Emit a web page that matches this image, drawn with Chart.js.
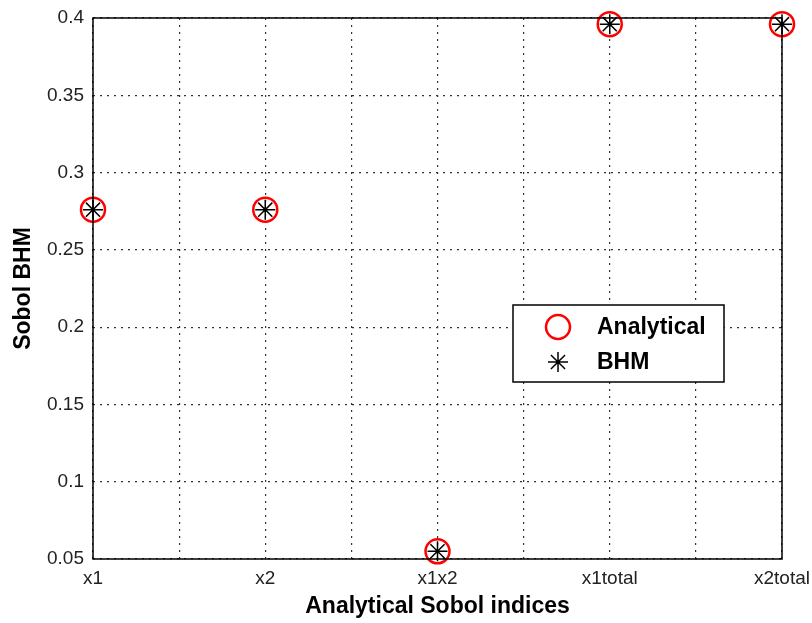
<!DOCTYPE html>
<html>
<head>
<meta charset="utf-8">
<script src="https://cdn.jsdelivr.net/npm/chart.js@4.4.1/dist/chart.umd.min.js"></script>
<style>
  html, body { margin: 0; padding: 0; background: #fff; }
  #wrap { width: 812px; height: 623px; }
</style>
</head>
<body>
<div id="wrap"><canvas id="sobolChart" width="812" height="623"></canvas></div>
<script>
const categories = ['x1', 'x2', 'x1x2', 'x1total', 'x2total'];
const analyticalValues = [0.276, 0.276, 0.055, 0.396, 0.396];
const bhmValues = [0.276, 0.276, 0.055, 0.396, 0.396];
const yTicks = [0.05, 0.1, 0.15, 0.2, 0.25, 0.3, 0.35, 0.4];

const fontFamily = '"Liberation Sans", Arial, Helvetica, sans-serif';

function toPoints(values) {
  return values.map(function (v, i) { return { x: i + 1, y: v }; });
}

// full black frame around the plot area, like matlab's box on
const boxPlugin = {
  id: 'boxFrame',
  afterDraw: function (chart) {
    const a = chart.chartArea;
    const ctx = chart.ctx;
    ctx.save();
    ctx.strokeStyle = '#000';
    ctx.lineWidth = 1.5;
    ctx.strokeRect(a.left, a.top, a.right - a.left, a.bottom - a.top);
    ctx.restore();
  }
};

// legend drawn inside the axes
const insideLegend = {
  id: 'insideLegend',
  afterDraw: function (chart) {
    const ctx = chart.ctx;
    const x = 513, y = 305, w = 211, h = 77;
    ctx.save();
    ctx.fillStyle = '#fff';
    ctx.fillRect(x, y, w, h);
    ctx.strokeStyle = '#000';
    ctx.lineWidth = 1.5;
    ctx.strokeRect(x, y, w, h);
    ctx.font = 'bold 23px ' + fontFamily;
    ctx.textBaseline = 'middle';
    chart.data.datasets.forEach(function (ds, i) {
      const cy = y + 22 + i * 35;
      ctx.strokeStyle = ds.borderColor;
      ctx.fillStyle = ds.backgroundColor;
      ctx.lineWidth = ds.borderWidth;
      Chart.helpers.drawPoint(ctx, {
        pointStyle: ds.pointStyle,
        radius: ds.pointRadius,
        borderWidth: ds.borderWidth,
        rotation: 0
      }, 558, cy);
      ctx.fillStyle = '#000';
      ctx.fillText(ds.label, 597, cy + 1);
    });
    ctx.restore();
  }
};

const ctx = document.getElementById('sobolChart').getContext('2d');

const data = {
  datasets: [{
    label: 'Analytical',
    data: toPoints(analyticalValues),
    pointStyle: 'circle',
    pointRadius: 12,
    pointHoverRadius: 12,
    borderColor: 'rgb(255, 0, 0)',
    backgroundColor: 'rgba(0, 0, 0, 0)',
    borderWidth: 2.5,
    showLine: false,
    clip: false,
    order: 2
  }, {
    label: 'BHM',
    data: toPoints(bhmValues),
    pointStyle: 'star',
    pointRadius: 10,
    pointHoverRadius: 10,
    borderColor: '#000',
    backgroundColor: '#000',
    borderWidth: 1.5,
    showLine: false,
    clip: false,
    order: 1
  }]
};

const config = {
  type: 'scatter',
  data: data,
  options: {
    responsive: false,
    animation: false,
    layout: {
      padding: { left: 0, right: 30, top: 18, bottom: 0 }
    },
    plugins: {
      legend: { display: false },
      tooltip: { enabled: false }
    },
    scales: {
      x: {
        type: 'linear',
        min: 1,
        max: 5,
        afterBuildTicks: function (scale) {
          const t = [];
          for (let v = 1; v <= 5; v += 0.5) t.push({ value: v });
          scale.ticks = t;
        },
        afterFit: function (scale) {
          scale.height = 64;
          scale.paddingLeft = 0;
          scale.paddingRight = 0;
        },
        border: { display: false, dash: [2, 5] },
        grid: {
          color: '#333',
          lineWidth: 1.2,
          drawTicks: false
        },
        ticks: {
          autoSkip: false,
          maxRotation: 0,
          padding: 8,
          color: '#222',
          font: { family: fontFamily, size: 19 },
          callback: function (value) {
            return Number.isInteger(value) ? categories[value - 1] : '';
          }
        },
        title: {
          display: true,
          text: 'Analytical Sobol indices',
          color: '#000',
          font: { family: fontFamily, size: 23, weight: 'bold' },
          padding: { top: 0, bottom: 3 }
        }
      },
      y: {
        min: 0.05,
        max: 0.4,
        afterBuildTicks: function (scale) {
          scale.ticks = yTicks.map(function (v) { return { value: v }; });
        },
        afterFit: function (scale) {
          scale.width = 93;
          scale.paddingTop = 0;
          scale.paddingBottom = 0;
        },
        border: { display: false, dash: [2, 5] },
        grid: {
          color: '#333',
          lineWidth: 1.2,
          drawTicks: false
        },
        ticks: {
          padding: 9,
          color: '#222',
          font: { family: fontFamily, size: 19 },
          callback: function (value) { return String(+value.toFixed(2)); }
        },
        title: {
          display: true,
          text: 'Sobol BHM',
          color: '#000',
          font: { family: fontFamily, size: 23, weight: 'bold' },
          padding: { top: 10, bottom: 0 }
        }
      }
    }
  },
  plugins: [boxPlugin, insideLegend]
};

const sobolChart = new Chart(ctx, config);
</script>
</body>
</html>
